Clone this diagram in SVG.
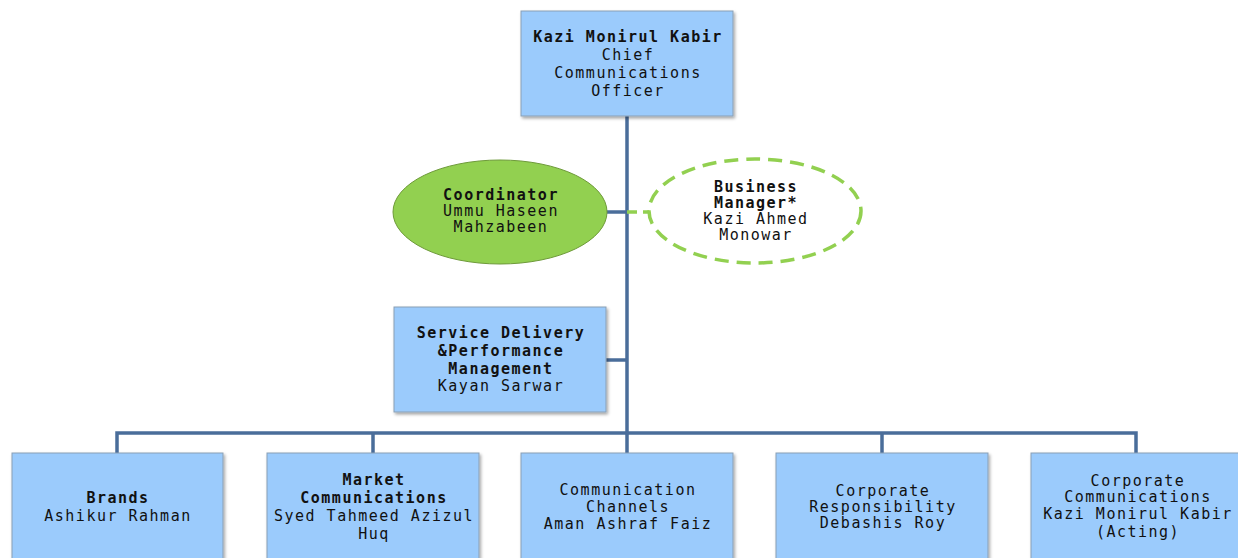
<svg xmlns="http://www.w3.org/2000/svg" width="1238" height="558" viewBox="0 0 1238 558">
<style>
.box{fill:#9BCBFC;stroke:#8A9FB5;stroke-width:1;filter:url(#sh)}
.t{font-family:"DejaVu Sans Mono","Liberation Mono",monospace;font-size:15px;letter-spacing:1.5px;text-anchor:middle;fill:#111}
.b{font-weight:bold}
.ln{stroke:#4A6D9A;stroke-width:3.5;fill:none}
</style>
<defs>
<filter id="sh" x="-10%" y="-10%" width="120%" height="130%">
<feDropShadow dx="1.5" dy="2" stdDeviation="1.5" flood-color="#000" flood-opacity="0.35"/>
</filter>
</defs>
<g id="connectors">
<path class="ln" d="M627 116V433"/>
<path class="ln" d="M607 212H627"/>
<path d="M627 212H650" stroke="#92D050" stroke-width="3.5" stroke-dasharray="10,6" fill="none"/>
<path class="ln" d="M606 360H627"/>
<path class="ln" d="M117 453V433H1136V453M373 433V453M627 433V453M882 433V453"/>
</g>
<g id="cco">
<rect class="box" x="521" y="11" width="212" height="105"/>
<text class="t" x="628" y="42"><tspan class="b">Kazi Monirul Kabir</tspan><tspan x="628" dy="18">Chief</tspan><tspan x="628" dy="18">Communications</tspan><tspan x="628" dy="18">Officer</tspan></text>
</g>
<g id="coordinator">
<ellipse cx="500" cy="212" rx="107" ry="52" fill="#92D050" stroke="#6E9A3A" stroke-width="1"/>
<text class="t" x="501" y="200"><tspan class="b">Coordinator</tspan><tspan x="501" dy="16">Ummu Haseen</tspan><tspan x="501" dy="16">Mahzabeen</tspan></text>
</g>
<g id="business-manager">
<ellipse cx="755" cy="211" rx="106" ry="52" fill="#fff" stroke="#92D050" stroke-width="3.5" stroke-dasharray="14,8"/>
<text class="t" x="756" y="192"><tspan class="b">Business</tspan><tspan x="756" dy="16" class="b">Manager*</tspan><tspan x="756" dy="16">Kazi Ahmed</tspan><tspan x="756" dy="16">Monowar</tspan></text>
</g>
<g id="service-delivery">
<rect class="box" x="394" y="307" width="212" height="105"/>
<text class="t" x="501" y="338"><tspan class="b">Service Delivery</tspan><tspan x="501" dy="18" class="b">&amp;Performance</tspan><tspan x="501" dy="18" class="b">Management</tspan><tspan x="501" dy="17">Kayan Sarwar</tspan></text>
</g>
<g id="brands">
<rect class="box" x="12" y="453" width="211" height="120"/>
<text class="t" x="118" y="503"><tspan class="b">Brands</tspan><tspan x="118" dy="18">Ashikur Rahman</tspan></text>
</g>
<g id="market-communications">
<rect class="box" x="267" y="453" width="212" height="120"/>
<text class="t" x="374" y="485"><tspan class="b">Market</tspan><tspan x="374" dy="18" class="b">Communications</tspan><tspan x="374" dy="18">Syed Tahmeed Azizul</tspan><tspan x="374" dy="18">Huq</tspan></text>
</g>
<g id="communication-channels">
<rect class="box" x="521" y="453" width="212" height="120"/>
<text class="t" x="628" y="495"><tspan>Communication</tspan><tspan x="628" dy="17">Channels</tspan><tspan x="628" dy="17">Aman Ashraf Faiz</tspan></text>
</g>
<g id="corporate-responsibility">
<rect class="box" x="776" y="453" width="212" height="120"/>
<text class="t" x="883" y="496"><tspan>Corporate</tspan><tspan x="883" dy="16">Responsibility</tspan><tspan x="883" dy="16">Debashis Roy</tspan></text>
</g>
<g id="corporate-communications">
<rect class="box" x="1031" y="453" width="212" height="120"/>
<text class="t" x="1138" y="486"><tspan>Corporate</tspan><tspan x="1138" dy="16">Communications</tspan><tspan x="1138" dy="17">Kazi Monirul Kabir</tspan><tspan x="1138" dy="18">(Acting)</tspan></text>
</g>
</svg>
